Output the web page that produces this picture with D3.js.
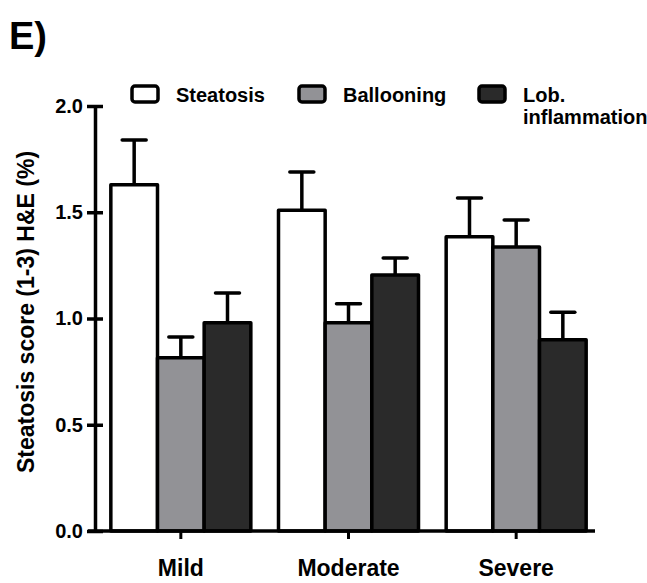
<!DOCTYPE html>
<html>
<head>
<meta charset="utf-8">
<script src="https://cdn.jsdelivr.net/npm/d3@7"></script>
<style>
  body { margin: 0; background: #fff; }
  text { font-family: "Liberation Sans", Arial, sans-serif; font-weight: bold; fill: #000; }
</style>
</head>
<body>
<svg id="chart"></svg>
<script>
// scores
var groups = ["Mild", "Moderate", "Severe"];
var seriesNames = ["Steatosis", "Ballooning", "Lob. inflammation"];
var steatosis = [1.63, 1.51, 1.385];
var ballooning = [0.815, 0.98, 1.337];
var lobInflam = [0.98, 1.205, 0.90];
// upper end of the error bars
var steatosisErr = [1.84, 1.69, 1.567];
var ballooningErr = [0.913, 1.07, 1.464];
var lobInflamErr = [1.12, 1.285, 1.03];
var yTicks = [0, 0.5, 1.0, 1.5, 2.0];

var width = 647;
var height = 583;
var fills = ["#ffffff", "#929296", "#2a2a2a"];
var strokeW = 3.5;

var values = [steatosis, ballooning, lobInflam];
var errs = [steatosisErr, ballooningErr, lobInflamErr];

var svg = d3.select("#chart")
    .attr("width", width)
    .attr("height", height);

var x = d3.scaleBand()
    .domain(groups)
    .range([97, 600]);

var xInner = d3.scaleBand()
    .domain(seriesNames)
    .range([-70, 70]);

var y = d3.scaleLinear()
    .domain([0, 2])
    .range([531, 106]);

// panel letter
svg.append("text")
    .attr("x", 9)
    .attr("y", 49)
    .style("font-size", "38px")
    .text("E)");

// bars
var bars = [];
groups.forEach(function(g, gi) {
    seriesNames.forEach(function(s, si) {
        bars.push({ group: g, series: s, si: si, value: values[si][gi], err: errs[si][gi] });
    });
});

var barG = svg.selectAll(".bar")
    .data(bars)
    .enter()
    .append("g")
        .classed("bar", true)
        .attr("transform", d => "translate(" + (x(d.group) + x.bandwidth() / 2) + ",0)");

// error bars first, bar box drawn over the stem
barG.append("line")
    .attr("x1", d => xInner(d.series) + xInner.bandwidth() / 2)
    .attr("x2", d => xInner(d.series) + xInner.bandwidth() / 2)
    .attr("y1", d => y(d.value))
    .attr("y2", d => y(d.err))
    .attr("stroke", "#000")
    .attr("stroke-width", strokeW);

barG.append("line")
    .attr("x1", d => xInner(d.series) + xInner.bandwidth() / 2 - 12)
    .attr("x2", d => xInner(d.series) + xInner.bandwidth() / 2 + 12)
    .attr("y1", d => y(d.err))
    .attr("y2", d => y(d.err))
    .attr("stroke", "#000")
    .attr("stroke-width", strokeW)
    .attr("stroke-linecap", "round");

barG.append("rect")
    .attr("x", d => xInner(d.series))
    .attr("y", d => y(d.value))
    .attr("width", xInner.bandwidth())
    .attr("height", d => y(0) - y(d.value))
    .attr("fill", d => fills[d.si])
    .attr("stroke", "#000")
    .attr("stroke-width", strokeW)
    .attr("stroke-linejoin", "round");

// y axis, ticks cross the axis line
var yAxis = svg.append("g")
    .attr("transform", "translate(95,0)")
    .call(d3.axisLeft(y)
        .tickValues(yTicks)
        .tickFormat(d3.format(".1f"))
        .tickSize(8)
        .tickSizeOuter(0)
        .tickPadding(4));

yAxis.select(".domain").attr("stroke-width", strokeW);
yAxis.selectAll(".tick line")
    .attr("x1", 8)
    .attr("x2", -8)
    .attr("stroke-width", strokeW);
yAxis.selectAll(".tick text")
    .style("font-size", "20px")
    .attr("font-family", null);

// x axis
var xAxis = svg.append("g")
    .attr("transform", "translate(0,531)")
    .call(d3.axisBottom(x)
        .tickSize(8)
        .tickSizeOuter(0)
        .tickPadding(21));

xAxis.select(".domain").remove();
xAxis.append("line")
    .attr("x1", 88)
    .attr("x2", 595)
    .attr("stroke", "#000")
    .attr("stroke-width", strokeW);
xAxis.selectAll(".tick line").attr("stroke-width", 3);
xAxis.selectAll(".tick text")
    .style("font-size", "23px")
    .attr("font-family", null);

// y title
svg.append("text")
    .attr("transform", "translate(34,312) rotate(-90)")
    .attr("text-anchor", "middle")
    .style("font-size", "23px")
    .text("Steatosis score (1-3) H&E (%)");

// legend
var legendX = [132, 299, 479];
var legend = svg.selectAll(".legend")
    .data(seriesNames)
    .enter()
    .append("g")
        .classed("legend", true)
        .attr("transform", (d, i) => "translate(" + legendX[i] + ",86)");

legend.append("rect")
    .attr("width", 26)
    .attr("height", 16)
    .attr("rx", 3)
    .attr("fill", (d, i) => fills[i])
    .attr("stroke", "#000")
    .attr("stroke-width", 3.5);

legend.append("text")
    .attr("x", 44)
    .attr("y", 16)
    .style("font-size", "20px")
    .selectAll("tspan")
    .data(d => d.split(" "))
    .enter()
    .append("tspan")
        .attr("x", 44)
        .attr("dy", (d, i) => i === 0 ? 0 : 22)
        .text(d => d);

// only the last entry wraps; keep the other two on one line
legend.filter((d, i) => i < 2).select("text").selectAll("tspan").remove();
legend.filter((d, i) => i < 2).select("text").text(d => d);
</script>
</body>
</html>
